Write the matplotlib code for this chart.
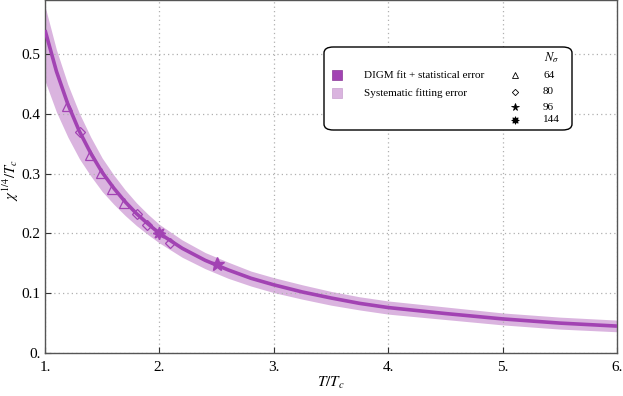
import matplotlib
matplotlib.use("Agg")
import matplotlib.pyplot as plt
from matplotlib.patches import FancyBboxPatch, Rectangle
from matplotlib.lines import Line2D

plt.rcParams['font.family'] = ['Liberation Serif', 'DejaVu Serif']
plt.rcParams['mathtext.fontset'] = 'stix'

# fit curve
t_fit = [1.0, 1.1, 1.2, 1.3, 1.4, 1.5, 1.6, 1.7, 1.8, 1.9, 2.0, 2.2, 2.4, 2.6,
         2.8, 3.0, 3.25, 3.5, 3.75, 4.0, 4.5, 5.0, 5.5, 6.0]
chi_fit = [0.540, 0.471, 0.416, 0.371, 0.334, 0.302, 0.276, 0.253, 0.233, 0.216,
           0.200, 0.175, 0.155, 0.139, 0.125, 0.114, 0.102, 0.092, 0.083, 0.076,
           0.066, 0.057, 0.050, 0.045]
sys_hi = [0.580, 0.507, 0.449, 0.401, 0.361, 0.326, 0.298, 0.273, 0.251, 0.232,
          0.215, 0.189, 0.168, 0.152, 0.137, 0.126, 0.114, 0.103, 0.094, 0.087,
          0.077, 0.067, 0.060, 0.055]
sys_lo = [0.455, 0.403, 0.361, 0.325, 0.296, 0.270, 0.249, 0.230, 0.213, 0.198,
          0.184, 0.160, 0.141, 0.125, 0.112, 0.101, 0.090, 0.080, 0.072, 0.065,
          0.056, 0.047, 0.040, 0.0355]

# lattice points per N_sigma
t_64 = [1.19, 1.39, 1.49, 1.59, 1.69]
chi_64 = [0.413, 0.331, 0.301, 0.274, 0.251]
t_80 = [1.31, 1.80, 1.89, 2.09]
chi_80 = [0.370, 0.232, 0.214, 0.184]
t_96 = [2.5]
chi_96 = [0.148]
t_144 = [2.0]
chi_144 = [0.200]

nsigma_labels = ['64', '80', '96', '144']
xticks = [1, 2, 3, 4, 5, 6]
xticklabels = ['1.', '2.', '3.', '4.', '5.', '6.']
yticks = [0, 0.1, 0.2, 0.3, 0.4, 0.5]
yticklabels = ['0.', '0.1', '0.2', '0.3', '0.4', '0.5']

dark = '#a243b3'
light = '#dab4df'
W, H = 623, 396

fig = plt.figure(figsize=(W / 100, H / 100), dpi=100)
ax = fig.add_axes([45 / W, 43 / H, 572 / W, 353 / H])

ax.fill_between(t_fit, sys_lo, sys_hi, color=light, lw=0, zorder=1)
ax.plot(t_fit, chi_fit, color=dark, lw=2.6, zorder=3, solid_capstyle='butt')

mk = dict(color=dark, ls='none', zorder=4)
ax.plot(t_64, chi_64, marker='^', ms=7, mfc='none', mew=0.9, **mk)
ax.plot(t_80, chi_80, marker='D', ms=5.5, mfc='none', mew=0.9, **mk)
ax.plot(t_96, chi_96, marker='*', ms=10, **mk)
ax.plot(t_144, chi_144, marker=(8, 1, 0), ms=9, **mk)

ax.set_xlim(1, 6)
ax.set_ylim(0, 0.5903)
ax.set_xticks(xticks)
ax.set_xticklabels(xticklabels)
ax.set_yticks(yticks)
ax.set_yticklabels(yticklabels)
ax.tick_params(direction='in', length=4, width=0.8, colors='#333333',
               labelsize=11, labelcolor='black')
ax.tick_params(axis='x', pad=6)
ax.tick_params(axis='y', pad=3)
ax.grid(True, color='#b0b0b0', ls=(0, (1, 2.5)), lw=0.9)
for s in ax.spines.values():
    s.set_color('#555555')
    s.set_linewidth(1.0)

ax.set_xlabel(r'$T/T_c$', fontsize=11, va='center')
ax.xaxis.set_label_coords(0.5, -0.085)
ax.set_ylabel(r'$\chi^{1/4}/T_c$', fontsize=10.5, va='center')
ax.yaxis.set_label_coords(-0.06, 0.49)


def fx(px):
    return px / W


def fy(py):
    return 1 - py / H


box = FancyBboxPatch((fx(324), fy(130)), fx(248), 83 / H,
                     boxstyle='round,pad=0,rounding_size=0.015',
                     transform=fig.transFigure, fc='white', ec='black',
                     lw=1.0, zorder=10)
fig.patches.append(box)

for py, col, txt in [(75, dark, 'DIGM fit + statistical error'),
                     (93, light, 'Systematic fitting error')]:
    fig.patches.append(Rectangle((fx(332), fy(py + 5)), 10 / W, 10 / H,
                                 transform=fig.transFigure, fc=col,
                                 ec='#8a3a96' if col == dark else '#c9a0cf',
                                 lw=0.5, zorder=11))
    fig.text(fx(364), fy(py), txt, fontsize=8, va='center', ha='left', zorder=12)

fig.text(fx(544), fy(58), r'$N_\sigma$', fontsize=9, va='center', ha='left', zorder=12)
markers = [('^', 4.5, 'none'), ('D', 3.2, 'none'), ('*', 5.5, 'black'), ((8, 1, 0), 5.5, 'black')]
for py, (m, ms, mfc), lab in zip([75, 92, 107, 120], markers, nsigma_labels):
    fig.add_artist(Line2D([fx(515)], [fy(py)], marker=m, ms=ms, mfc=mfc,
                          mec='black', mew=0.6, ls='none',
                          transform=fig.transFigure, zorder=12))
    fig.text(fx(543), fy(py), lab, fontsize=8, va='center', ha='left', zorder=12)

fig.savefig('out.png', dpi=100)
